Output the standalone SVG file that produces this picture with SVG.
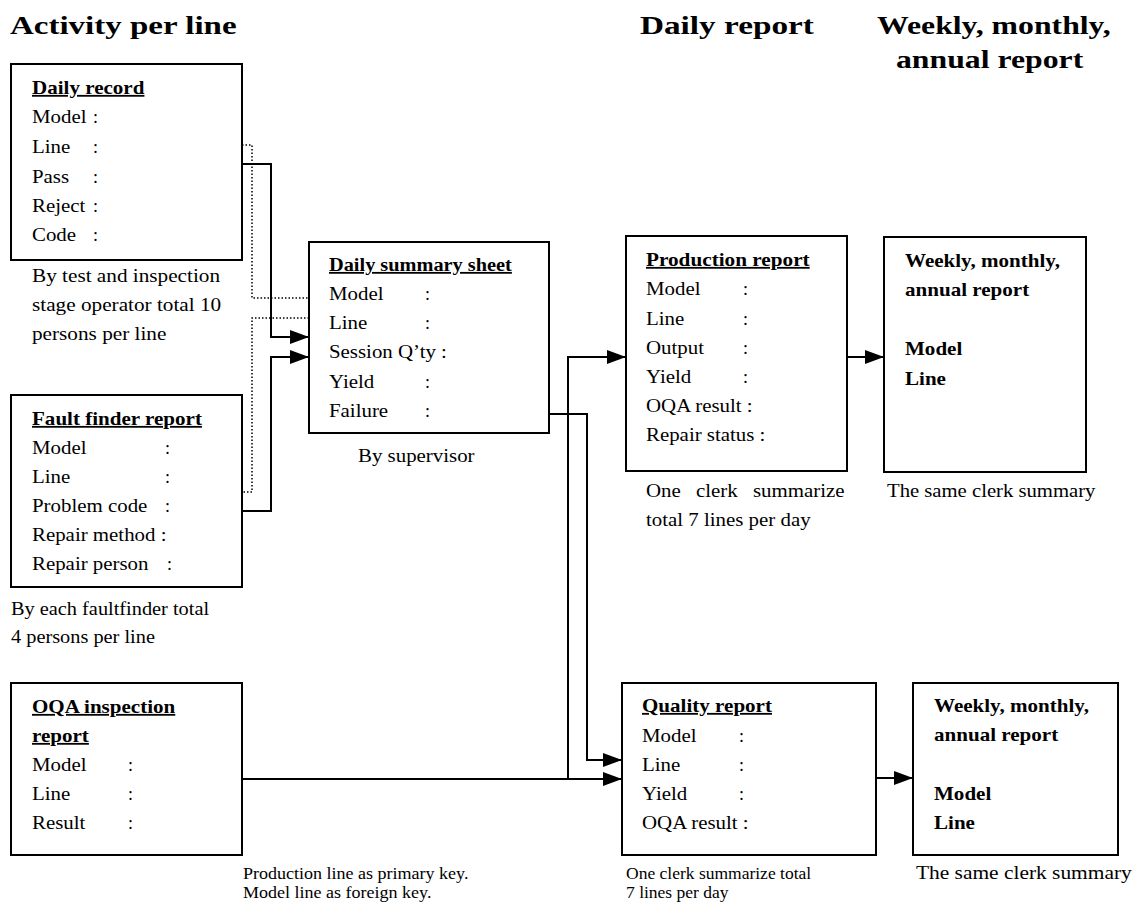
<svg xmlns="http://www.w3.org/2000/svg" width="1140" height="915" viewBox="0 0 1140 915">
  <style>
    text { font-family: "Liberation Serif", "Times New Roman", serif; font-size: 18px; fill: #000; }
    .head { font-size: 25px; font-weight: bold; }
    .title { font-weight: bold; text-decoration: underline; }
    .bold { font-weight: bold; }
    .small { font-size: 17.5px; }
    .box { fill: #fff; stroke: #000; stroke-width: 2; }
    .conn { fill: none; stroke: #000; stroke-width: 2; }
    .dot { fill: none; stroke: #000; stroke-width: 1.5; stroke-dasharray: 1.5 2; }
  </style>
  <defs>
    <marker id="arrow" markerUnits="userSpaceOnUse" markerWidth="20" markerHeight="14" refX="19" refY="7" orient="auto">
      <path d="M0,0 L19,7 L0,14 Z" fill="#000"/>
    </marker>
  </defs>

  <rect width="1140" height="915" fill="#fff"/>

  <!-- column headings (wide-set serif: horizontal scale on each line) -->
  <g id="headings">
    <text class="head" transform="translate(10 34) scale(1.32 1)">Activity per line</text>
    <text class="head" transform="translate(640 34) scale(1.33 1)">Daily report</text>
    <text class="head" transform="translate(877 34) scale(1.27 1)">Weekly, monthly,</text>
    <text class="head" transform="translate(896 68) scale(1.27 1)">annual report</text>
  </g>

  <!-- connectors -->
  <g id="connectors">
    <polyline class="dot" points="242,145 252,145 252,298 309,298"/>
    <polyline class="dot" points="309,318 252,318 252,492 242,492"/>
    <polyline class="conn" points="242,164 271,164 271,337 309,337" marker-end="url(#arrow)"/>
    <polyline class="conn" points="242,511 271,511 271,357 309,357" marker-end="url(#arrow)"/>
    <polyline class="conn" points="549,414 587,414 587,760 622,760" marker-end="url(#arrow)"/>
    <polyline class="conn" points="242,779 622,779" marker-end="url(#arrow)"/>
    <polyline class="conn" points="568,779 568,357 626,357" marker-end="url(#arrow)"/>
    <polyline class="conn" points="847,357 884,357" marker-end="url(#arrow)"/>
    <polyline class="conn" points="876,778 913,778" marker-end="url(#arrow)"/>
  </g>

  <!-- Daily record -->
  <g id="daily-record">
    <rect class="box" x="11" y="64" width="231" height="196"/>
    <text class="title" transform="translate(32 94) scale(1.17 1)">Daily record</text>
    <text transform="translate(32 123) scale(1.16 1)">Model</text><text x="93" y="123">:</text>
    <text transform="translate(32 153) scale(1.16 1)">Line</text><text x="93" y="153">:</text>
    <text transform="translate(32 183) scale(1.16 1)">Pass</text><text x="93" y="183">:</text>
    <text transform="translate(32 212) scale(1.16 1)">Reject</text><text x="93" y="212">:</text>
    <text transform="translate(32 241) scale(1.16 1)">Code</text><text x="93" y="241">:</text>
    <text transform="translate(32 282) scale(1.18 1)">By test and inspection</text>
    <text transform="translate(32 311) scale(1.18 1)">stage operator total 10</text>
    <text transform="translate(32 340) scale(1.18 1)">persons per line</text>
  </g>

  <!-- Fault finder report -->
  <g id="fault-finder-report">
    <rect class="box" x="11" y="395" width="231" height="192"/>
    <text class="title" transform="translate(32 425) scale(1.17 1)">Fault finder report</text>
    <text transform="translate(32 454) scale(1.16 1)">Model</text><text x="165" y="454">:</text>
    <text transform="translate(32 483) scale(1.16 1)">Line</text><text x="165" y="483">:</text>
    <text transform="translate(32 512) scale(1.16 1)">Problem code</text><text x="165" y="512">:</text>
    <text transform="translate(32 541) scale(1.16 1)">Repair method :</text>
    <text transform="translate(32 570) scale(1.16 1)">Repair person</text><text x="167" y="570">:</text>
    <text transform="translate(11 615) scale(1.13 1)">By each faultfinder total</text>
    <text transform="translate(11 643) scale(1.13 1)">4 persons per line</text>
  </g>

  <!-- OQA inspection report -->
  <g id="oqa-inspection-report">
    <rect class="box" x="11" y="683" width="231" height="172"/>
    <text class="title" transform="translate(32 713) scale(1.17 1)">OQA inspection</text>
    <text class="title" transform="translate(32 742) scale(1.17 1)">report</text>
    <text transform="translate(32 771) scale(1.16 1)">Model</text><text x="128" y="771">:</text>
    <text transform="translate(32 800) scale(1.16 1)">Line</text><text x="128" y="800">:</text>
    <text transform="translate(32 829) scale(1.16 1)">Result</text><text x="128" y="829">:</text>
    <text class="small" transform="translate(243 879) scale(1.03 1)">Production line as primary key.</text>
    <text class="small" transform="translate(243 898) scale(1.03 1)">Model line as foreign key.</text>
  </g>

  <!-- Daily summary sheet -->
  <g id="daily-summary-sheet">
    <rect class="box" x="309" y="242" width="240" height="191"/>
    <text class="title" transform="translate(329 271) scale(1.13 1)">Daily summary sheet</text>
    <text transform="translate(329 300) scale(1.16 1)">Model</text><text x="425" y="300">:</text>
    <text transform="translate(329 329) scale(1.16 1)">Line</text><text x="425" y="329">:</text>
    <text transform="translate(329 358) scale(1.16 1)">Session Q’ty :</text>
    <text transform="translate(329 388) scale(1.16 1)">Yield</text><text x="425" y="388">:</text>
    <text transform="translate(329 417) scale(1.16 1)">Failure</text><text x="425" y="417">:</text>
    <text transform="translate(358 462) scale(1.16 1)">By supervisor</text>
  </g>

  <!-- Production report -->
  <g id="production-report">
    <rect class="box" x="626" y="236" width="221" height="235"/>
    <text class="title" transform="translate(646 266) scale(1.18 1)">Production report</text>
    <text transform="translate(646 295) scale(1.16 1)">Model</text><text x="743" y="295">:</text>
    <text transform="translate(646 325) scale(1.16 1)">Line</text><text x="743" y="325">:</text>
    <text transform="translate(646 354) scale(1.16 1)">Output</text><text x="743" y="354">:</text>
    <text transform="translate(646 383) scale(1.16 1)">Yield</text><text x="743" y="383">:</text>
    <text transform="translate(646 412) scale(1.16 1)">OQA result :</text>
    <text transform="translate(646 441) scale(1.16 1)">Repair status :</text>
    <text transform="translate(646 497) scale(1.16 1)">One</text>
    <text transform="translate(696 497) scale(1.16 1)">clerk</text>
    <text transform="translate(753 497) scale(1.16 1)">summarize</text>
    <text transform="translate(646 526) scale(1.16 1)">total 7 lines per day</text>
  </g>

  <!-- Weekly/monthly/annual report (production) -->
  <g id="periodic-report-production">
    <rect class="box" x="884" y="237" width="202" height="235"/>
    <text class="bold" transform="translate(905 267) scale(1.17 1)">Weekly, monthly,</text>
    <text class="bold" transform="translate(905 296) scale(1.17 1)">annual report</text>
    <text class="bold" transform="translate(905 355) scale(1.17 1)">Model</text>
    <text class="bold" transform="translate(905 385) scale(1.17 1)">Line</text>
    <text transform="translate(887 497) scale(1.15 1)">The same clerk summary</text>
  </g>

  <!-- Quality report -->
  <g id="quality-report">
    <rect class="box" x="622" y="683" width="254" height="172"/>
    <text class="title" transform="translate(642 712) scale(1.17 1)">Quality report</text>
    <text transform="translate(642 742) scale(1.16 1)">Model</text><text x="739" y="742">:</text>
    <text transform="translate(642 771) scale(1.16 1)">Line</text><text x="739" y="771">:</text>
    <text transform="translate(642 800) scale(1.16 1)">Yield</text><text x="739" y="800">:</text>
    <text transform="translate(642 829) scale(1.16 1)">OQA result :</text>
    <text class="small" x="626" y="879">One clerk summarize total</text>
    <text class="small" x="626" y="898">7 lines per day</text>
  </g>

  <!-- Weekly/monthly/annual report (quality) -->
  <g id="periodic-report-quality">
    <rect class="box" x="913" y="683" width="205" height="172"/>
    <text class="bold" transform="translate(934 712) scale(1.17 1)">Weekly, monthly,</text>
    <text class="bold" transform="translate(934 741) scale(1.17 1)">annual report</text>
    <text class="bold" transform="translate(934 800) scale(1.17 1)">Model</text>
    <text class="bold" transform="translate(934 829) scale(1.17 1)">Line</text>
    <text transform="translate(916 879) scale(1.19 1)">The same clerk summary</text>
  </g>
</svg>
